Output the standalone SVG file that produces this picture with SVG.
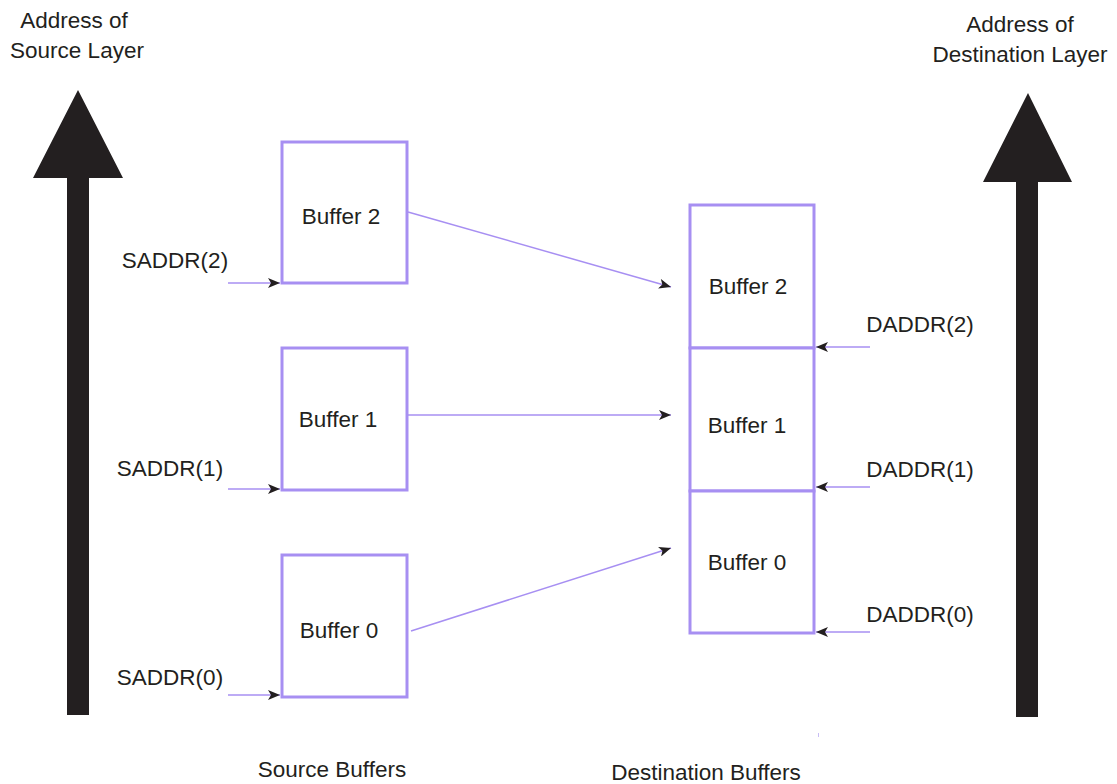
<svg xmlns="http://www.w3.org/2000/svg" width="1117" height="784" viewBox="0 0 1117 784">
<style>
text{font-family:"Liberation Sans",Arial,sans-serif;fill:#231f20;font-size:22.5px;text-anchor:middle}
.box{fill:#fff;stroke:#a78ff2;stroke-width:3}
.con{stroke:#a78ff2;stroke-width:1.5;fill:none;marker-end:url(#ah)}
.big{fill:#231f20}
</style>
<defs>
<marker id="ah" viewBox="0 0 12 10" refX="12" refY="5" markerWidth="13" markerHeight="10" markerUnits="userSpaceOnUse" orient="auto">
<path d="M0,0 L12,5 L0,10 L3,5 Z" fill="#231f20"/>
</marker>
</defs>
<rect width="1117" height="784" fill="#fff"/>

<g id="src-axis">
<polygon class="big" points="78,90 123,178 89,178 89,715 67,715 67,178 33,178"/>
<text x="74" y="28">Address of</text>
<text x="77" y="58">Source Layer</text>
</g>
<g id="dst-axis">
<polygon class="big" points="1028,93 1072,182 1038,182 1038,717 1016,717 1016,182 983,182"/>
<text x="1020" y="32">Address of</text>
<text x="1020" y="62">Destination Layer</text>
</g>

<g id="src-buf2"><rect class="box" x="282" y="142" width="125" height="141"/><text x="341" y="224">Buffer 2</text></g>
<g id="src-buf1"><rect class="box" x="282" y="348" width="125" height="142"/><text x="338" y="427">Buffer 1</text></g>
<g id="src-buf0"><rect class="box" x="282" y="555" width="125" height="142"/><text x="339" y="638">Buffer 0</text></g>

<g id="dst-buf2"><rect class="box" x="690" y="205" width="124" height="143"/><text x="748" y="294">Buffer 2</text></g>
<g id="dst-buf1"><rect class="box" x="690" y="348" width="124" height="143"/><text x="747" y="433">Buffer 1</text></g>
<g id="dst-buf0"><rect class="box" x="690" y="491" width="124" height="142"/><text x="747" y="570">Buffer 0</text></g>

<g id="labels">
<text x="175" y="268">SADDR(2)</text>
<text x="170" y="476">SADDR(1)</text>
<text x="170" y="685">SADDR(0)</text>
<text x="920" y="332">DADDR(2)</text>
<text x="920" y="477">DADDR(1)</text>
<text x="920" y="622">DADDR(0)</text>
<text x="332" y="777">Source Buffers</text>
<text x="706" y="780">Destination Buffers</text>
</g>

<g id="connectors">
<line class="con" x1="228" y1="283" x2="280" y2="283"/>
<line class="con" x1="228" y1="489" x2="280" y2="489"/>
<line class="con" x1="228" y1="695" x2="280" y2="695"/>
<line class="con" x1="870" y1="347" x2="816" y2="347"/>
<line class="con" x1="870" y1="487" x2="816" y2="487"/>
<line class="con" x1="870" y1="632" x2="816" y2="632"/>
<line class="con" x1="408" y1="212" x2="671" y2="287"/>
<line class="con" x1="408" y1="415" x2="671" y2="415"/>
<line class="con" x1="411" y1="631" x2="671" y2="548"/>
</g>
<line x1="818.5" y1="733" x2="818.5" y2="737" stroke="#c8bdf5" stroke-width="1"/>
</svg>
